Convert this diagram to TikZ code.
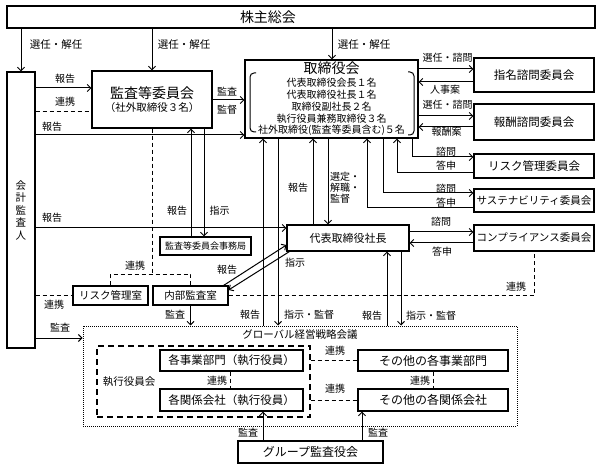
\documentclass[tikz,border=0pt]{standalone}
\usepackage{fontspec}
\setmainfont{Noto Sans CJK JP}
\usetikzlibrary{arrows.meta}
\newcommand{\fsz}[1]{\fontsize{#1}{#1}\selectfont}
\begin{document}
\begin{tikzpicture}[x=1pt,y=-1pt,
  box/.style={draw, line width=1.1pt, inner sep=0pt, align=center, font=\fsz{10.5}},
  arr/.style={line width=1pt, -{Straight Barb[length=3.5pt,width=7pt,line width=1pt]}},
  ln/.style={line width=1pt},
  dsh/.style={line width=1pt, dash pattern=on 4pt off 3pt},
  lab/.style={font=\fsz{10}, inner sep=0pt},
]
\fill[white] (0,0) rectangle (600,465);
\useasboundingbox (0,0) rectangle (600,465);

% ---------- boxes ----------
\node[box, minimum width=588, minimum height=22, text width=588, align=left, font=\fsz{14}] (kabu) at (301,17) {\hspace*{233pt}株主総会};
\node[box, minimum width=28, minimum height=276, font=\fontsize{10.5}{12.5}\selectfont] (kaikei) at (21,210) {会\\計\\監\\査\\人};
\node[box, minimum width=120, minimum height=57] (kansa) at (152,99.5) {{\fsz{14}監査等委員会}\\[2pt]{\fsz{10.5}（社外取締役３名）}};
\node[box, minimum width=173, minimum height=78, font=\fontsize{10}{11.8}\selectfont] (tori) at (331.5,99) {{\fsz{14}取締役会}\\[1pt]代表取締役会長１名\\代表取締役社長１名\\取締役副社長２名\\執行役員兼務取締役３名\\社外取締役(監査等委員含む)５名};
\draw[ln, rounded corners=4pt] (256,73) -- (250,73) -- (250,132) -- (256,132);
\draw[ln, rounded corners=4pt] (408,72) -- (414,72) -- (414,135) -- (408,135);

\node[box, minimum width=120, minimum height=34, font=\fsz{11.5}] (shimei) at (534,75) {指名諮問委員会};
\node[box, minimum width=120, minimum height=36, font=\fsz{11.5}] (houshu) at (534,122) {報酬諮問委員会};
\node[box, minimum width=120, minimum height=24, font=\fsz{11.5}] (riskc) at (534,166) {リスク管理委員会};
\node[box, minimum width=120, minimum height=23, font=\fsz{10.5}] (sust) at (534,200.5) {サステナビリティ委員会};
\node[box, minimum width=120, minimum height=26, font=\fsz{10.5}] (comp) at (534,238) {コンプライアンス委員会};
\node[box, minimum width=122, minimum height=26, font=\fsz{11}] (shacho) at (348,238) {代表取締役社長};
\node[box, minimum width=91, minimum height=18, font=\fsz{9}] (jimu) at (205.5,246) {監査等委員会事務局};
\node[box, minimum width=75, minimum height=19, font=\fsz{10.5}] (riskr) at (110.5,295.5) {リスク管理室};
\node[box, minimum width=75, minimum height=19, font=\fsz{10.5}] (naibu) at (190.5,295.5) {内部監査室};

\node[draw, line width=1pt, dash pattern=on 1pt off 1pt, minimum width=434, minimum height=100, inner sep=0pt] (glob) at (300,376) {};
\node[lab, font=\fsz{10.5}] (gtitle) at (300,335) {グローバル経営戦略会議};
\node[draw, line width=1.3pt, dash pattern=on 6pt off 4pt, minimum width=213, minimum height=71, inner sep=0pt] (yaku) at (203.5,381.5) {};
\node[lab, font=\fsz{10.5}] (yakut) at (129,382) {執行役員会};
\node[box, minimum width=143, minimum height=21, font=\fsz{11.5}] (jigyo) at (231.5,360.5) {各事業部門（執行役員）};
\node[box, minimum width=143, minimum height=22, font=\fsz{11.5}] (kankei) at (231.5,400) {各関係会社（執行役員）};
\node[box, minimum width=150, minimum height=21, font=\fsz{12}] (ojigyo) at (433,360.5) {その他の各事業部門};
\node[box, minimum width=150, minimum height=22, font=\fsz{12}] (okankei) at (433,400) {その他の各関係会社};
\node[box, minimum width=145, minimum height=22, font=\fsz{12}] (group) at (310.5,452) {グループ監査役会};

% ---------- connectors ----------
\draw[arr] (kabu.south -| kaikei.north) -- (kaikei.north);
\draw[arr] (kabu.south -| kansa.north) -- (kansa.north);
\draw[arr] (kabu.south -| 332,0) -- (tori.north -| 332,0);

\draw[arr] (kaikei.east |- 0,88) -- (kansa.west |- 0,88);
\draw[dsh] (kaikei.east |- 0,112) -- (kansa.west |- 0,112);
\draw[arr] (kaikei.east |- 0,135) -- (tori.west |- 0,135);
\draw[arr] (kaikei.east |- 0,228) -- (shacho.west |- 0,228);
\draw[dsh] (kaikei.east |- riskr.west) -- (riskr.west);
\draw[arr] (kaikei.east |- 0,338) -- (glob.west |- 0,338);

\draw[arr] (kansa.east |- 0,100) -- (tori.west |- 0,100);
\draw[arr] (jimu.north -| 191,0) -- (kansa.south -| 191,0);
\draw[arr] (kansa.south -| 204,0) -- (jimu.north -| 204,0);
\draw[dsh] (kansa.south) -- (kansa.south |- 0,275);
\draw[dsh] (riskr.north) -- ++(0,-11) -| (naibu.north);

\draw[arr] (glob.north -| 263,0) -- (tori.south -| 263,0);
\draw[arr] (tori.south -| 278,0) -- (glob.north -| 278,0);
\draw[arr] (shacho.north -| 313,0) -- (tori.south -| 313,0);
\draw[arr] (tori.south -| 328,0) -- (shacho.north -| 328,0);
\draw[arr] (glob.north -| 387,0) -- (shacho.south -| 387,0);
\draw[arr] (shacho.south -| 401,0) -- (glob.north -| 401,0);

\draw[arr] ([xshift=-5pt]naibu.north east) -- ([yshift=-7pt]shacho.west);
\draw[arr] ([xshift=3pt]shacho.south west) -- ([yshift=5.5pt]naibu.east);
\draw[arr] (naibu.south) -- (glob.north -| naibu.south);
\draw[dsh] (naibu.east) -| (comp.south);

\draw[arr] (tori.east |- 0,69) -- (shimei.west |- 0,69);
\draw[arr] (shimei.west |- 0,82) -- (tori.east |- 0,82);
\draw[arr] (tori.east |- 0,116) -- (houshu.west |- 0,116);
\draw[arr] (houshu.west |- 0,127) -- (tori.east |- 0,127);
\draw[arr] (tori.south -| 412,0) |- (riskc.west |- 0,157);
\draw[arr] (riskc.west |- 0,173) -| (tori.south -| 397,0);
\draw[arr] (tori.south -| 383,0) |- (sust.west |- 0,193);
\draw[arr] (sust.west |- 0,208) -| (tori.south -| 367,0);
\draw[arr] (shacho.east |- 0,232) -- (comp.west |- 0,232);
\draw[arr] (comp.west |- 0,243) -- (shacho.east |- 0,243);

\draw[dsh] (jigyo.south -| 230,0) -- (kankei.north -| 230,0);
\draw[dsh] (ojigyo.south) -- (okankei.north);
\draw[dsh] (yaku.east |- ojigyo.west) -- (ojigyo.west);
\draw[dsh] (yaku.east |- okankei.west) -- (okankei.west);
\draw[arr] (group.north -| 263,0) -- (kankei.south -| 263,0);
\draw[arr] (group.north -| 362,0) -- (okankei.south -| 362,0);

% ---------- labels ----------
\node[lab, font=\fsz{10.5}] (l1) at (56,45) {選任・解任};
\node[lab, font=\fsz{10.5}] (l2) at (184,45) {選任・解任};
\node[lab, font=\fsz{10.5}] (l3) at (364,45) {選任・解任};
\node[lab] (l4) at (65,79) {報告};
\node[lab] (l5) at (65,102) {連携};
\node[lab] (l6) at (52,127) {報告};
\node[lab] (l7) at (52,218) {報告};
\node[lab] (l8) at (54,305) {連携};
\node[lab] (l9) at (60,328) {監査};
\node[lab] (l10) at (227,92) {監査};
\node[lab] (l11) at (227,110) {監督};
\node[lab] (l12) at (177,211) {報告};
\node[lab] (l13) at (219.5,211) {指示};
\node[lab] (l14) at (135,266) {連携};
\node[lab] (l15) at (227,270) {報告};
\node[lab] (l16) at (295,263) {指示};
\node[lab] (l17) at (175,315) {監査};
\node[lab] (l18) at (250,315) {報告};
\node[lab] (l19) at (309,315) {指示・監督};
\node[lab] (l20) at (372,316) {報告};
\node[lab] (l21) at (431,316) {指示・監督};
\node[lab] (l22) at (298,188) {報告};
\node[lab, align=left, font=\fontsize{10}{11}\selectfont] (l23) at (345,188) {選定・\\解職・\\監督};
\node[lab] (l24) at (447.5,58) {選任・諮問};
\node[lab] (l25) at (445,90) {人事案};
\node[lab] (l26) at (447.5,105) {選任・諮問};
\node[lab] (l27) at (446.5,132) {報酬案};
\node[lab] (l28) at (446,152) {諮問};
\node[lab] (l29) at (446,166) {答申};
\node[lab] (l30) at (446,189) {諮問};
\node[lab] (l31) at (446,203) {答申};
\node[lab] (l32) at (441,222) {諮問};
\node[lab] (l33) at (442,252) {答申};
\node[lab] (l34) at (516,287) {連携};
\node[lab] (l35) at (217,381) {連携};
\node[lab] (l36) at (420,381) {連携};
\node[lab] (l37) at (335,351) {連携};
\node[lab] (l38) at (335,389) {連携};
\node[lab] (l39) at (248,433) {監査};
\node[lab] (l40) at (378,433) {監査};
\end{tikzpicture}
\end{document}
